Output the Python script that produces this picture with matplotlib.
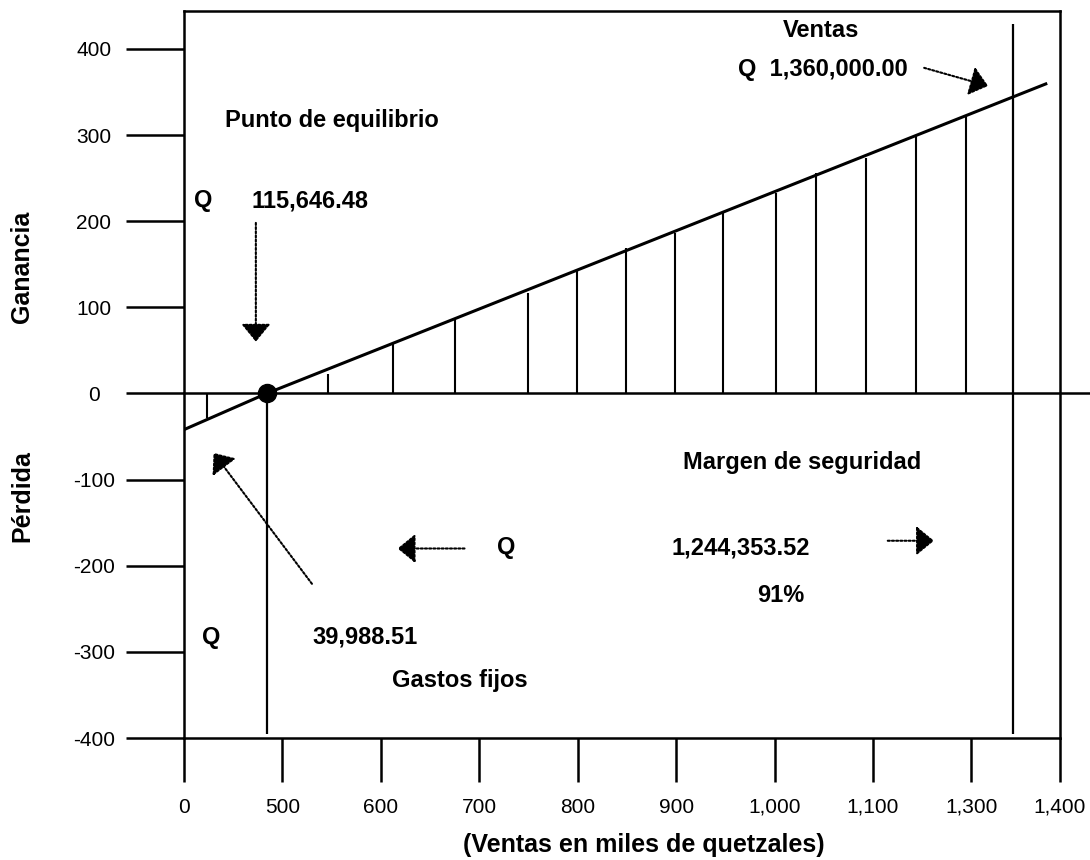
import numpy as np
import matplotlib
matplotlib.use("Agg")
import matplotlib.pyplot as plt

plt.rcParams['font.family'] = ['Liberation Sans', 'DejaVu Sans']

# x axis is drawn with evenly spaced ticks, 1,400 sits on the right frame
x_ticks = [0, 1, 2, 3, 4, 5, 6, 7, 8, 8.9]
x_labels = ["0", "500", "600", "700", "800", "900", "1,000", "1,100", "1,300", "1,400"]
y_ticks = [-400, -300, -200, -100, 0, 100, 200, 300, 400]

# profit / loss line
line_x = [0, 0.84, 8.77]
line_y = [-42, 0, 360]

breakeven_x = 0.84
sales_x = 8.42
sales_top = 429
drop_bottom = -395

# hatching between the line and zero
hatch_x = [0.23, 1.46, 2.12, 2.75, 3.49, 3.99, 4.49, 4.99, 5.48, 6.01, 6.42, 6.93, 7.44, 7.95]
hatch_top = [-29, 23, 58, 88, 117, 142, 169, 186, 210, 233, 256, 273, 300, 323]

fig = plt.figure(figsize=(10.9, 8.6), dpi=100)
ax = fig.add_axes([184 / 1090, 1 - 738 / 860, 876 / 1090, 727 / 860])
ax.set_xlim(0, 8.9)
ax.set_ylim(-400, 444)

for s in ax.spines.values():
    s.set_linewidth(1.8)

ax.set_xticks(x_ticks)
ax.set_xticklabels(x_labels, fontsize=15)
ax.set_yticks(y_ticks)
ax.set_yticklabels([str(v) for v in y_ticks], fontsize=15)
for lab in ax.get_yticklabels():
    lab.set_ha("center")
ax.tick_params(axis="y", direction="out", length=42, width=1.8, pad=23)
ax.tick_params(axis="x", direction="out", length=32, width=1.8, pad=11)

# zero line runs past the frame
ax.plot([0, 1.035], [0, 0], color="black", lw=1.8, transform=ax.get_yaxis_transform(), clip_on=False)

ax.plot(line_x, line_y, color="black", lw=2.2, solid_capstyle="butt")
ax.vlines(hatch_x, 0, hatch_top, color="black", lw=1.5)
ax.vlines(breakeven_x, drop_bottom, 0, color="black", lw=1.6)
ax.vlines(sales_x, drop_bottom, sales_top, color="black", lw=1.6)
ax.plot([breakeven_x], [0], "o", color="black", ms=13, zorder=5)


def arrow(start, end):
    ax.annotate("", xy=end, xytext=start,
                arrowprops=dict(arrowstyle="-|>,head_length=0.55,head_width=0.45",
                                linestyle=(0, (1, 1)), lw=1.5, color="black",
                                mutation_scale=20, shrinkA=0, shrinkB=0))


bold = dict(fontsize=17, fontweight="bold", ha="center", va="center")
ax.text(6.47, 421, "Ventas", **bold)
ax.text(6.49, 376, "Q  1,360,000.00", **bold)
arrow((7.52, 378), (8.17, 357))

ax.text(1.50, 317, "Punto de equilibrio", **bold)
ax.text(0.20, 224, "Q", **bold)
ax.text(1.28, 224, "115,646.48", **bold)
arrow((0.73, 198), (0.73, 60))

ax.text(6.28, -80, "Margen de seguridad", **bold)
arrow((2.85, -180), (2.17, -180))
ax.text(3.27, -179, "Q", **bold)
ax.text(5.66, -179, "1,244,353.52", **bold)
arrow((7.15, -171), (7.62, -171))
ax.text(6.06, -234, "91%", **bold)

ax.text(0.28, -283, "Q", **bold)
ax.text(1.84, -283, "39,988.51", **bold)
ax.text(2.80, -333, "Gastos fijos", **bold)
arrow((1.30, -221), (0.30, -69))

fig.text(22 / 1090, 1 - 267 / 860, "Ganancia", rotation=90, fontsize=18, fontweight="bold", ha="center", va="center")
fig.text(22 / 1090, 1 - 496 / 860, "Pérdida", rotation=90, fontsize=18, fontweight="bold", ha="center", va="center")
fig.text(644 / 1090, 1 - 845 / 860, "(Ventas en miles de quetzales)", fontsize=18, fontweight="bold", ha="center", va="center")

fig.savefig("out.png", dpi=100)
